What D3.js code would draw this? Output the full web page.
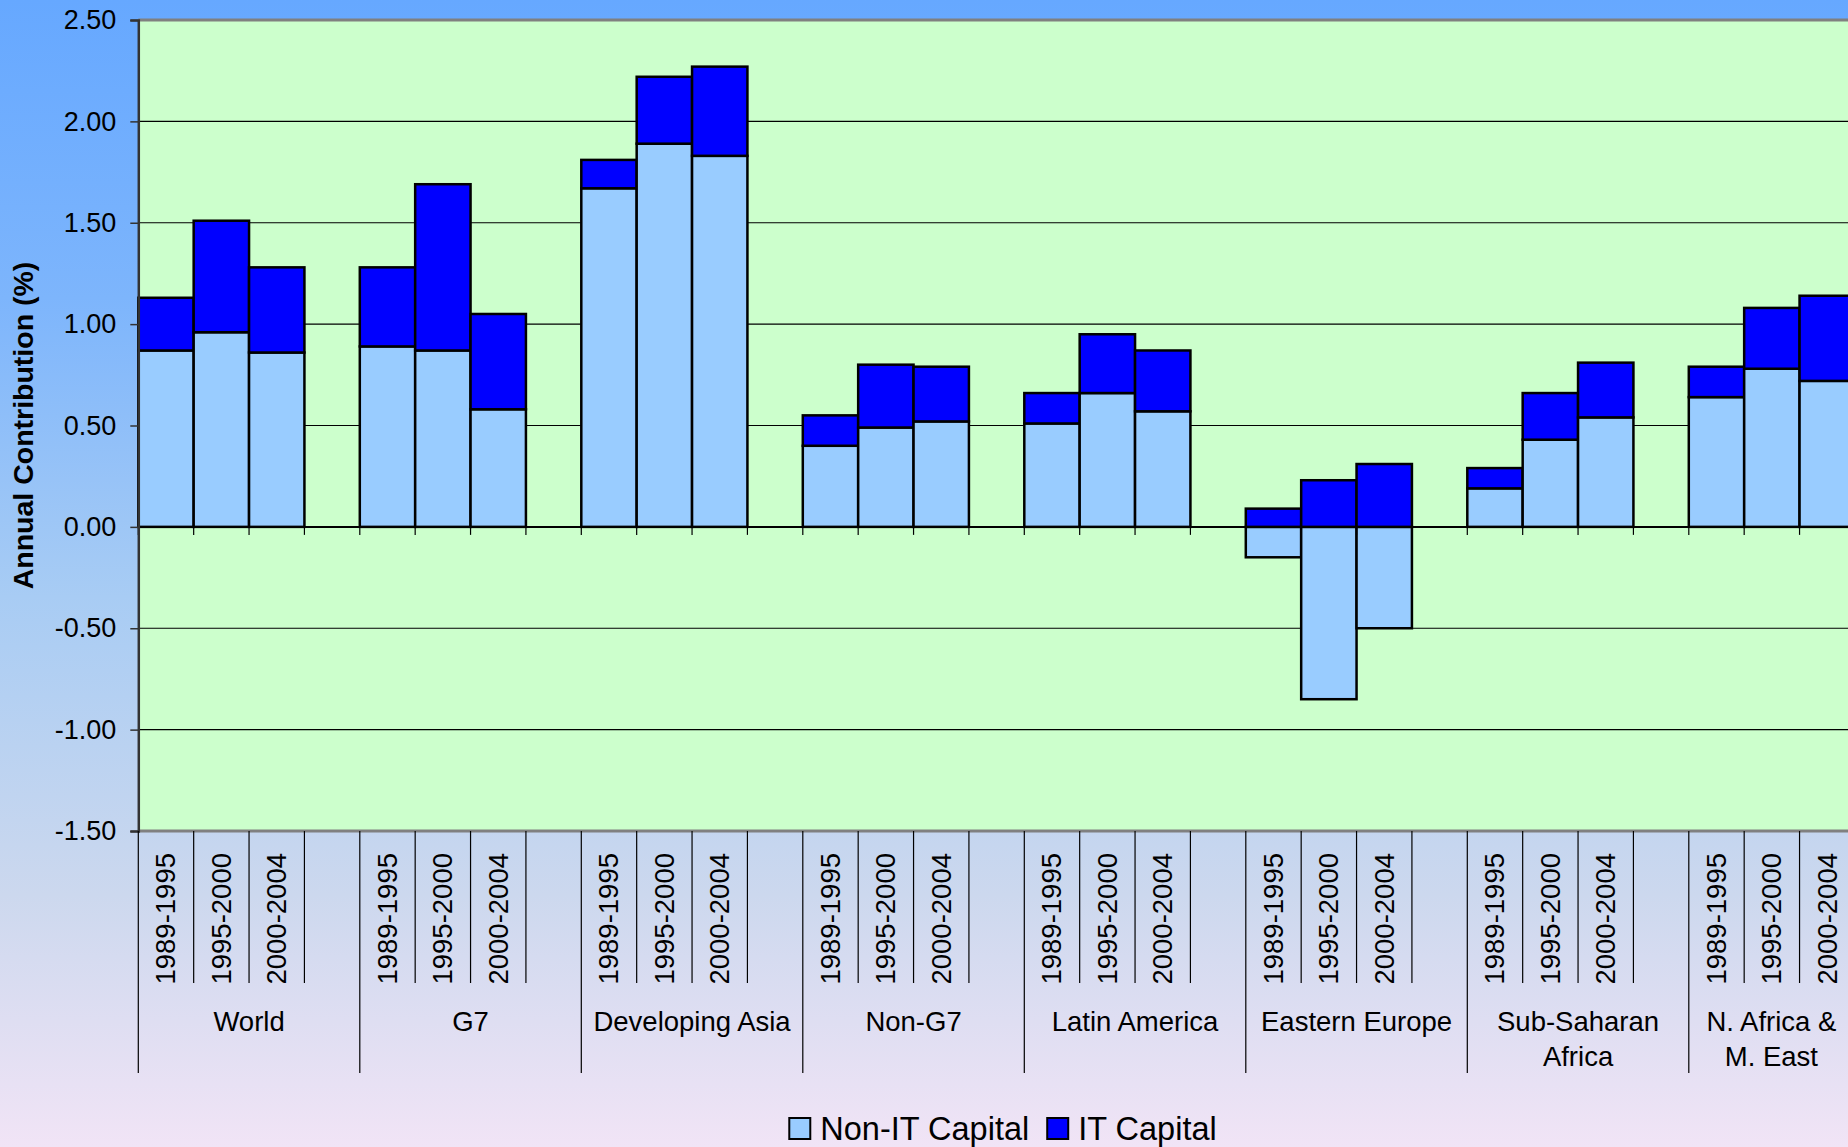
<!DOCTYPE html>
<html>
<head>
<meta charset="utf-8">
<script src="https://cdn.jsdelivr.net/npm/d3@7"></script>
<style>
  html, body { margin: 0; padding: 0; overflow: hidden; }
  svg { display: block; font-family: "Liberation Sans", Arial, sans-serif; }
</style>
</head>
<body>
<svg id="chart" width="1848" height="1147"></svg>
<script>
// ---------------- DATA ----------------
const groups = ["World", "G7", "Developing Asia", "Non-G7", "Latin America", "Eastern Europe", "Sub-Saharan Africa", "N. Africa & M. East"];
const groupLines = [["World"], ["G7"], ["Developing Asia"], ["Non-G7"], ["Latin America"], ["Eastern Europe"], ["Sub-Saharan", "Africa"], ["N. Africa &", "M. East"]];
const periods = ["1989-1995", "1995-2000", "2000-2004"];
// values per group, in period order
const nonITCapital = [
  0.87, 0.96, 0.86,   // World
  0.89, 0.87, 0.58,   // G7
  1.67, 1.89, 1.83,   // Developing Asia
  0.40, 0.49, 0.52,   // Non-G7
  0.51, 0.66, 0.57,   // Latin America
  -0.15, -0.85, -0.50,// Eastern Europe
  0.19, 0.43, 0.54,   // Sub-Saharan Africa
  0.64, 0.78, 0.72    // N. Africa & M. East
];
const itCapital = [
  0.26, 0.55, 0.42,
  0.39, 0.82, 0.47,
  0.14, 0.33, 0.44,
  0.15, 0.31, 0.27,
  0.15, 0.29, 0.30,
  0.09, 0.23, 0.31,
  0.10, 0.23, 0.27,
  0.15, 0.30, 0.42
];
const seriesNames = ["Non-IT Capital", "IT Capital"];
const yTicks = [-1.5, -1.0, -0.5, 0, 0.5, 1.0, 1.5, 2.0, 2.5];
const yTitle = "Annual Contribution (%)";

// ---------------- LAYOUT ----------------
const W = 1848, H = 1147;
const plotLeft = 138.3, slotW = 55.375;
const slotsPerGroup = periods.length + 1;
const nSlots = groups.length * slotsPerGroup;
const plotRight = plotLeft + nSlots * slotW;
const plotTop = 20, plotBottom = 831;

const colors = { nonIT: "#99CCFF", it: "#0000FF" };

const svg = d3.select("#chart");

// background gradient
const defs = svg.append("defs");
const grad = defs.append("linearGradient").attr("id", "bg").attr("x1", 0).attr("y1", 0).attr("x2", 0).attr("y2", 1);
[["0%", "#66A8FF"], ["26%", "#7DB5FC"], ["52%", "#A8CCF4"], ["78%", "#CCD8EE"], ["100%", "#F1E4F6"]]
  .forEach(([o, c]) => grad.append("stop").attr("offset", o).attr("stop-color", c));
svg.append("rect").attr("width", W).attr("height", H).attr("fill", "url(#bg)");

// scales
const slotIds = d3.range(nSlots);
const x = d3.scaleBand().domain(slotIds).range([plotLeft, plotRight]).paddingInner(0).paddingOuter(0);
const y = d3.scaleLinear().domain([-1.5, 2.5]).range([plotBottom, plotTop]);

// plot area
svg.append("rect")
  .attr("x", plotLeft).attr("y", plotTop)
  .attr("width", plotRight - plotLeft).attr("height", plotBottom - plotTop)
  .attr("fill", "#CCFFCC");

// gridlines
svg.append("g").selectAll("line").data(yTicks.filter(t => t > -1.5 && t < 2.5 && t !== 0)).join("line")
  .attr("x1", plotLeft).attr("x2", plotRight)
  .attr("y1", d => y(d)).attr("y2", d => y(d))
  .attr("stroke", "#000").attr("stroke-width", 1.2);

// plot border top / bottom
svg.append("line").attr("x1", plotLeft).attr("x2", plotRight).attr("y1", plotTop).attr("y2", plotTop)
  .attr("stroke", "#808080").attr("stroke-width", 3);
svg.append("line").attr("x1", plotLeft).attr("x2", plotRight).attr("y1", plotBottom).attr("y2", plotBottom)
  .attr("stroke", "#808080").attr("stroke-width", 3);

// bars data
const bars = [];
groups.forEach((g, gi) => {
  periods.forEach((p, pi) => {
    const idx = gi * periods.length + pi;
    const slot = gi * slotsPerGroup + pi;
    let pos = 0, neg = 0;
    [["nonIT", nonITCapital[idx]], ["it", itCapital[idx]]].forEach(([k, v]) => {
      let y0, y1;
      if (v >= 0) { y0 = pos; y1 = pos + v; pos = y1; }
      else { y0 = neg; y1 = neg + v; neg = y1; }
      bars.push({ slot, key: k, y0, y1 });
    });
  });
});

svg.append("g").selectAll("rect").data(bars).join("rect")
  .attr("x", d => x(d.slot))
  .attr("width", x.bandwidth())
  .attr("y", d => y(Math.max(d.y0, d.y1)))
  .attr("height", d => Math.abs(y(d.y0) - y(d.y1)))
  .attr("fill", d => colors[d.key])
  .attr("stroke", "#000").attr("stroke-width", 2.5);

// zero axis line with tick marks
svg.append("line").attr("x1", plotLeft).attr("x2", plotRight).attr("y1", y(0)).attr("y2", y(0))
  .attr("stroke", "#000").attr("stroke-width", 2);
svg.append("g").selectAll("line").data(d3.range(nSlots + 1)).join("line")
  .attr("x1", d => plotLeft + d * x.step()).attr("x2", d => plotLeft + d * x.step())
  .attr("y1", y(0)).attr("y2", y(0) + 8)
  .attr("stroke", "#000").attr("stroke-width", 1.2);

// y axis
const fmt = d3.format(".2f");
const yAxis = d3.axisLeft(y).tickValues(yTicks).tickFormat(d => fmt(d).replace("\u2212", "-")).tickSize(8).tickPadding(14);
const ya = svg.append("g").attr("transform", `translate(${plotLeft},0)`).call(yAxis);
ya.select(".domain").attr("stroke", "#333").attr("stroke-width", 2.5);
ya.selectAll(".tick line").attr("stroke", "#333").attr("stroke-width", 1.5);
ya.selectAll(".tick text").attr("font-size", 27).attr("fill", "#000")
  .attr("font-family", "'Liberation Sans', Arial, sans-serif");

// y title
svg.append("text")
  .attr("transform", `translate(23,${(plotTop + plotBottom) / 2}) rotate(-90)`)
  .attr("text-anchor", "middle").attr("dominant-baseline", "central")
  .attr("font-size", 28.5).attr("font-weight", "bold").attr("fill", "#000")
  .text(yTitle);

// category label lines
svg.append("g").selectAll("line").data(d3.range(nSlots + 1)).join("line")
  .attr("x1", d => plotLeft + d * x.step()).attr("x2", d => plotLeft + d * x.step())
  .attr("y1", plotBottom)
  .attr("y2", d => d % slotsPerGroup === 0 ? 1073 : 983)
  .attr("stroke", "#000").attr("stroke-width", 1.2);

// period labels
const periodLabels = [];
groups.forEach((g, gi) => periods.forEach((p, pi) => periodLabels.push({ slot: gi * slotsPerGroup + pi, text: p })));
svg.append("g").selectAll("text").data(periodLabels).join("text")
  .attr("transform", d => `translate(${x(d.slot) + x.bandwidth() / 2},853) rotate(-90)`)
  .attr("text-anchor", "end").attr("dominant-baseline", "central")
  .attr("font-size", 27.5).attr("fill", "#000")
  .text(d => d.text);

// group labels
groupLines.forEach((lines, gi) => {
  const gx0 = plotLeft + gi * slotsPerGroup * x.step();
  const gx1 = Math.min(gx0 + slotsPerGroup * x.step(), W + 6);
  const t = svg.append("text")
    .attr("x", (gx0 + gx1) / 2).attr("y", 1021)
    .attr("text-anchor", "middle").attr("dominant-baseline", "central")
    .attr("font-size", 27.5).attr("fill", "#000");
  lines.forEach((ln, li) => t.append("tspan").attr("x", (gx0 + gx1) / 2).attr("dy", li === 0 ? 0 : 35).text(ln));
});

// legend
const leg = svg.append("g");
const legItems = [{ name: seriesNames[0], color: colors.nonIT }, { name: seriesNames[1], color: colors.it }];
let lx = 0;
const legG = leg.selectAll("g").data(legItems).join("g");
legG.append("rect").attr("width", 21).attr("height", 21).attr("y", -22)
  .attr("fill", d => d.color).attr("stroke", "#000").attr("stroke-width", 2);
legG.append("text").attr("x", 31).attr("y", 0).attr("font-size", 32.5).attr("fill", "#000").text(d => d.name);
legG.each(function () {
  const g = d3.select(this);
  g.attr("transform", `translate(${lx},0)`);
  lx += 31 + g.select("text").node().getComputedTextLength() + 18;
});
const legW = lx - 18;
leg.attr("transform", `translate(${1003 - legW / 2},1140)`);
</script>
</body>
</html>
